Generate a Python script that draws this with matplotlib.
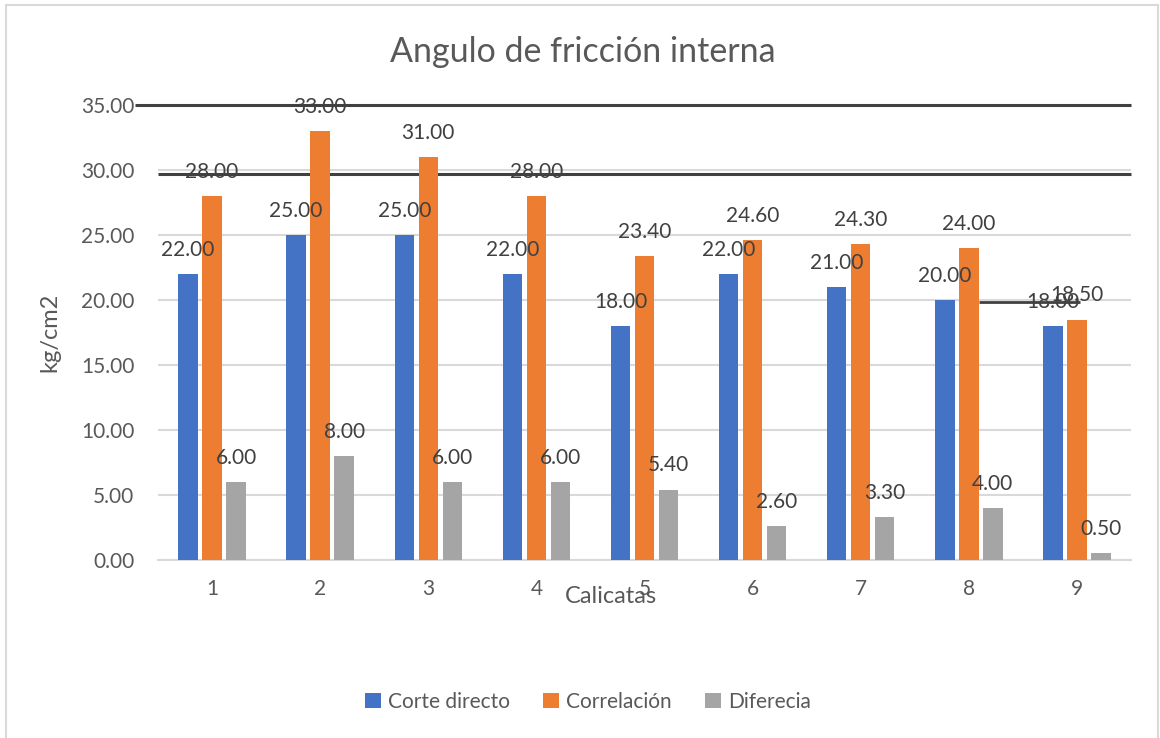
import matplotlib
matplotlib.use("Agg")
import matplotlib.pyplot as plt
from matplotlib.patches import Rectangle
import numpy as np

plt.rcParams['font.family'] = ['Lato', 'DejaVu Sans']

# Data
calicatas = ["1", "2", "3", "4", "5", "6", "7", "8", "9"]
corte_directo = [22.00, 25.00, 25.00, 22.00, 18.00, 22.00, 21.00, 20.00, 18.00]
correlacion = [28.00, 33.00, 31.00, 28.00, 23.40, 24.60, 24.30, 24.00, 18.50]
diferencia = [6.00, 8.00, 6.00, 6.00, 5.40, 2.60, 3.30, 4.00, 0.50]
series_names = ["Corte directo", "Correlación", "Diferecia"]
y_ticks = [0, 5, 10, 15, 20, 25, 30, 35]

colors = ["#4472C4", "#ED7D31", "#A5A5A5"]
text_color = "#595959"
label_color = "#404040"
grid_color = "#D9D9D9"

fig = plt.figure(figsize=(11.6, 7.38), dpi=100)
ax = fig.add_axes([0.1362, 0.2412, 0.975 - 0.1362, 0.8577 - 0.2412])

x = np.arange(len(calicatas))
width = 0.18
offset = 0.222

for i, (vals, name) in enumerate(zip([corte_directo, correlacion, diferencia], series_names)):
    pos = x + (i - 1) * offset
    ax.bar(pos, vals, width=width, color=colors[i], label=name, zorder=3)
    for xp, v in zip(pos, vals):
        ax.annotate(f"{v:.2f}", (xp, v), xytext=(0, 17.5), textcoords="offset points",
                    ha="center", va="center", fontsize=15, color=label_color, zorder=5)

# dark horizontal strokes across the plot
ax.hlines(35, -0.71, 8.5, colors="#404040", linewidth=2.2, zorder=4, clip_on=False)
ax.hlines(29.7, -0.5, 8.5, colors="#404040", linewidth=2.2, zorder=2, clip_on=False)
ax.hlines(19.85, 7.09, 8.03, colors="#404040", linewidth=2.0, zorder=2, clip_on=False)

ax.set_xlim(-0.5, 8.5)
ax.set_ylim(0, 35)
ax.set_yticks(y_ticks)
ax.set_yticklabels([f"{t:.2f}" for t in y_ticks])
ax.set_xticks(x)
ax.set_xticklabels(calicatas)
ax.tick_params(axis="both", length=0, labelsize=15, labelcolor=text_color)
ax.tick_params(axis="y", pad=17)
ax.tick_params(axis="x", pad=14)

ax.yaxis.grid(True, color=grid_color, linewidth=1.5, zorder=0)
ax.set_axisbelow(True)
for s in ["top", "right", "left"]:
    ax.spines[s].set_visible(False)
ax.spines["bottom"].set_color(grid_color)
ax.spines["bottom"].set_linewidth(1.5)

ax.set_ylabel("kg/cm2", fontsize=17, color=text_color, labelpad=12)
ax.set_xlabel("Calicatas", fontsize=17, color=text_color)
ax.xaxis.set_label_coords((611 - 158) / (1131 - 158), (560 - 586) / 455)
ax.yaxis.set_label_coords((60 - 158) / (1131 - 158), 0.5)

fig.text(583 / 1160, 1 - 52 / 738, "Angulo de fricción interna", ha="center", va="center",
         fontsize=24.5, color=text_color)

fig.legend(loc="center", bbox_to_anchor=(588 / 1160, 1 - 702 / 738), ncol=3, frameon=False,
           fontsize=15, labelcolor=text_color, handlelength=0.75, handleheight=0.75,
           handletextpad=0.35, columnspacing=1.6)

# chart area border
fig.add_artist(Rectangle((6 / 1160, -0.01), (1158 - 6) / 1160, 1 - 5 / 738 + 0.01,
                         transform=fig.transFigure, fill=False, edgecolor=grid_color,
                         linewidth=1.5))

fig.savefig("out.png", dpi=100)
